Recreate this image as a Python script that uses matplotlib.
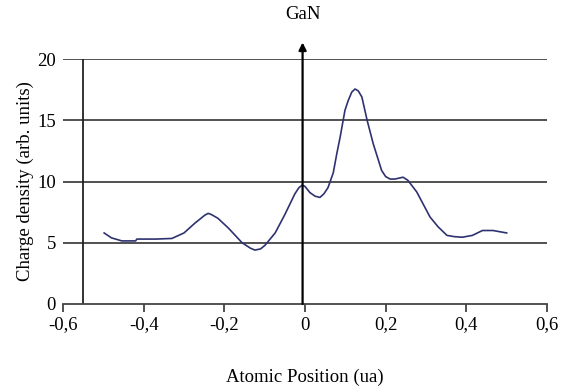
import numpy as np
import matplotlib
matplotlib.use("Agg")
import matplotlib.pyplot as plt

plt.rcParams['font.family'] = ['Liberation Serif', 'DejaVu Serif']

# charge density profile
position = [-0.498, -0.48, -0.454, -0.43, -0.42, -0.417, -0.37, -0.33, -0.30,
            -0.273, -0.248, -0.24, -0.232, -0.216, -0.19, -0.156, -0.135, -0.124,
            -0.11, -0.099, -0.074, -0.05, -0.025, -0.015, -0.007, 0.0, 0.012,
            0.025, 0.037, 0.047, 0.057, 0.07, 0.079, 0.087, 0.099, 0.107,
            0.116, 0.124, 0.132, 0.141, 0.154, 0.169, 0.19, 0.2, 0.211, 0.223,
            0.243, 0.255, 0.277, 0.31, 0.33, 0.352, 0.37, 0.39, 0.415, 0.44,
            0.466, 0.5]
density = [5.8, 5.4, 5.15, 5.15, 5.15, 5.3, 5.3, 5.35, 5.8,
           6.6, 7.26, 7.4, 7.3, 7.0, 6.2, 5.0, 4.55, 4.4,
           4.5, 4.8, 5.8, 7.3, 9.0, 9.5, 9.7, 9.6, 9.1,
           8.8, 8.7, 9.0, 9.5, 10.7, 12.3, 13.6, 15.8, 16.6,
           17.3, 17.55, 17.4, 16.9, 15.0, 13.1, 10.9, 10.4, 10.2, 10.2,
           10.35, 10.1, 9.15, 7.1, 6.3, 5.6, 5.5, 5.45, 5.6, 6.0,
           6.0, 5.8]

xticks = [-0.6, -0.4, -0.2, 0, 0.2, 0.4, 0.6]
xtick_labels = ["-0,6", "-0,4", "-0,2", "0", "0,2", "0,4", "0,6"]
yticks = [0, 5, 10, 15, 20]

fig = plt.figure(figsize=(5.68, 3.87), dpi=100)
ax = fig.add_axes([63 / 568, 1 - 304 / 387, 484 / 568, 245 / 387])

fs = 13.5
ax.set_xlim(-0.6, 0.6)
ax.set_ylim(0, 20)

for s in ['top', 'right', 'left']:
    ax.spines[s].set_visible(False)
ax.spines['bottom'].set_color('#444444')
ax.spines['bottom'].set_linewidth(1.3)

# horizontal grid
for yv in yticks[1:]:
    ax.axhline(yv, color='#333333', linewidth=1.2, zorder=1)
# left vertical axis line (Excel style)
ax.plot([-0.55, -0.55], [0, 20], color='#222222', linewidth=1.3, zorder=2)

ax.set_xticks(xticks)
ax.set_xticklabels(xtick_labels, fontsize=fs)
ax.set_yticks(yticks)
ax.set_yticklabels([str(v) for v in yticks], fontsize=fs)
ax.tick_params(axis='x', direction='out', length=6, width=1.2, color='#333333', pad=3)
ax.tick_params(axis='y', length=0, pad=5)

ax.plot(position, density, color='#2e3270', linewidth=1.2, zorder=3)

# vertical arrow at the Ga site
ax.annotate('', xy=(-0.006, 21.35), xytext=(-0.006, 0),
            arrowprops=dict(arrowstyle='-|>', color='black', lw=1.6,
                            mutation_scale=11, shrinkA=0, shrinkB=0),
            annotation_clip=False, zorder=4)
ax.text(-0.006, 23.6, "GaN", ha='center', va='center', fontsize=fs, clip_on=False)

ax.set_xlabel("Atomic Position (ua)", fontsize=fs, labelpad=25)
ax.set_ylabel("Charge density (arb. units)", fontsize=fs)
ax.yaxis.set_label_coords(-0.06, 0.5)

fig.savefig("out.png", dpi=100)
